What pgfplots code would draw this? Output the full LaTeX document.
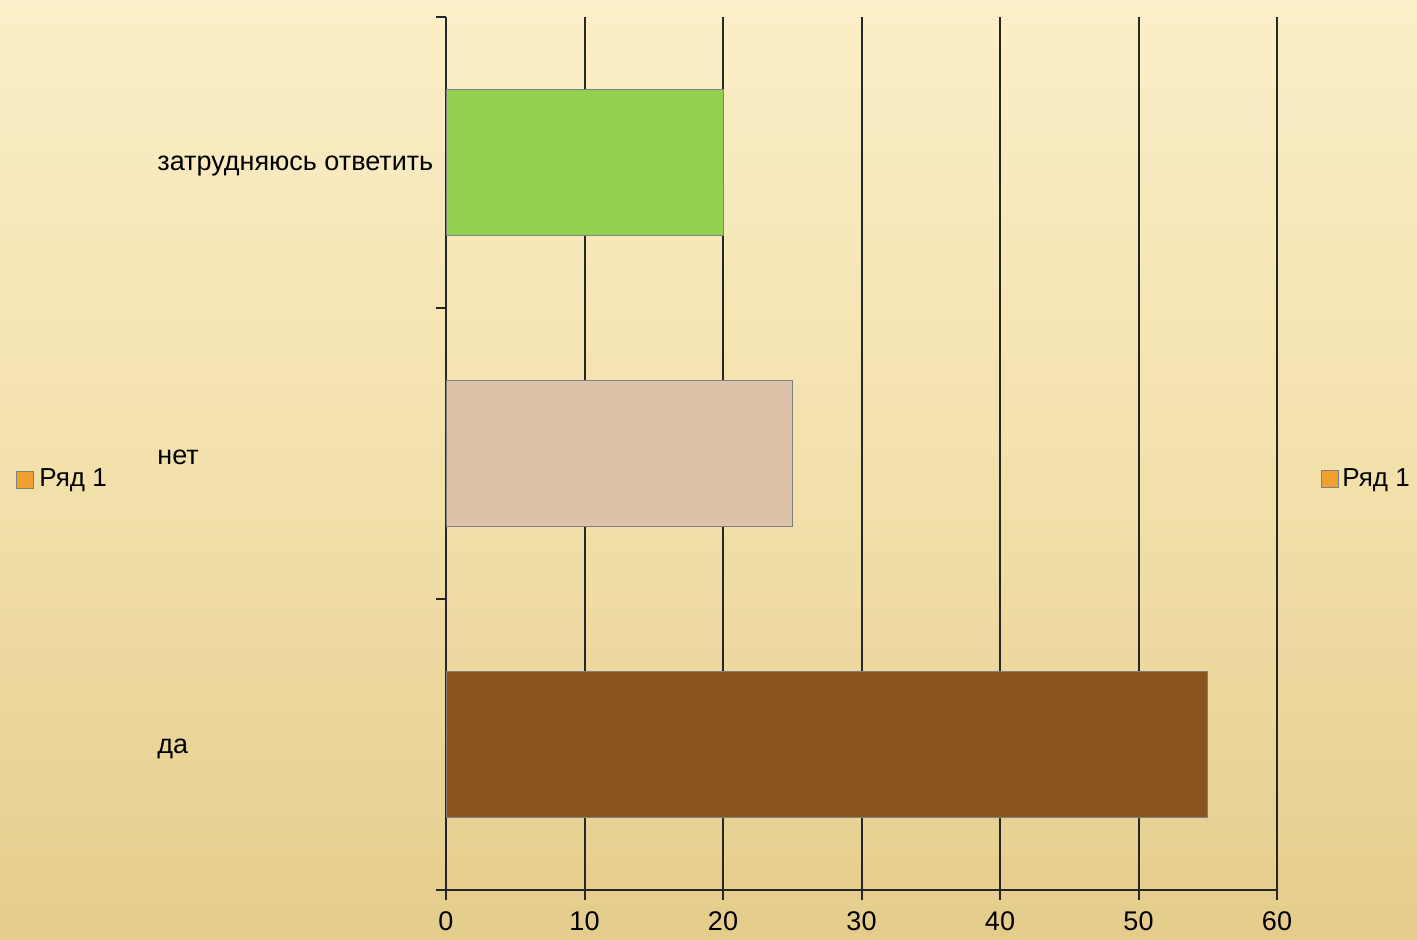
\documentclass[border=0pt]{standalone}
\usepackage{fontspec}
\setmainfont{Liberation Sans}
\usepackage{pgfplots}
\pgfplotsset{compat=1.18}
\definecolor{bgtop}{HTML}{FBEFC9}
\definecolor{bgmid}{HTML}{F3E1AC}
\definecolor{bgbot}{HTML}{E4CC8C}
\definecolor{cgreen}{HTML}{92D050}
\definecolor{ctan}{HTML}{DBC2A8}
\definecolor{cbrown}{HTML}{8B5522}
\definecolor{clegend}{HTML}{F0A030}
\definecolor{cline}{HTML}{262626}
\begin{document}
\begin{tikzpicture}[font=\fontsize{13.5}{16}\selectfont]
\shade[top color=bgtop, bottom color=bgbot, middle color=bgmid] (0,0) rectangle (708.5pt,469.5pt);
\begin{axis}[
  at={(223pt,24.5pt)}, anchor=south west,
  scale only axis, width=415.5pt, height=436.5pt,
  xmin=0, xmax=60, ymin=-0.5, ymax=2.5,
  xtick={0,10,...,60},
  ytick={0,1,2},
  yticklabels={да,нет,затрудняюсь ответить},
  /pgf/number format/assume math mode=true,
  axis x line*=bottom, axis y line*=left,
  xmajorgrids,
  grid style={line width=1pt, color=cline},
  axis line style={line width=1pt, color=cline},
  tick align=outside, major tick length=5pt,
  ytick style={draw=none},
  xtick style={line width=1pt, color=cline},
  extra y ticks={-0.5,0.5,1.5,2.5},
  extra y tick labels={},
  extra y tick style={ytick style={draw=cline, line width=1pt}},
  yticklabel style={anchor=west, xshift=-139.5pt, yshift=-2pt, inner sep=0pt},
  xticklabel style={yshift=-2.5pt},
  legend style={draw=none, fill=none, at={(1.052,0.471)}, anchor=west, inner sep=0pt,
    font=\fontsize{13}{15}\selectfont,
    /tikz/every even column/.style={column sep=2pt}},
  legend image code/.code={\draw[fill=clegend, draw=gray] (0pt,-4.25pt) rectangle (8.5pt,4.25pt);},
]
\addplot[xbar, bar shift=0pt, bar width=0.5, fill=cgreen, draw=gray, line width=0.5pt, forget plot] coordinates {(20,2)};
\addplot[xbar, bar shift=0pt, bar width=0.5, fill=ctan, draw=gray, line width=0.5pt, forget plot] coordinates {(25,1)};
\addplot[xbar, bar shift=0pt, bar width=0.5, fill=cbrown, draw=gray, line width=0.5pt, forget plot] coordinates {(55,0)};
\addlegendimage{}
\addlegendentry{Ряд 1}
\end{axis}
\draw[fill=clegend, draw=gray] (8pt,225.5pt) rectangle (16.5pt,234pt);
\node[anchor=west, inner sep=0pt, font=\fontsize{13}{15}\selectfont] at (19.5pt,229.5pt) {Ряд 1};
\end{tikzpicture}
\end{document}
